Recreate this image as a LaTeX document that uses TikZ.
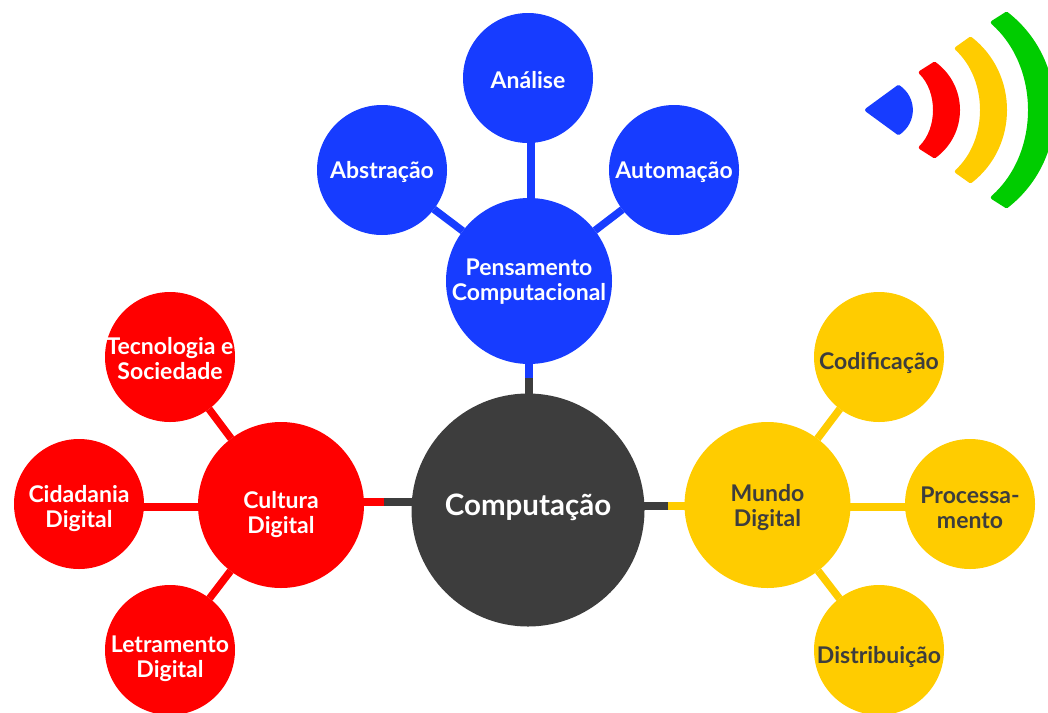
\documentclass[tikz,border=0pt]{standalone}
\usepackage{fontspec}
\setmainfont{Lato}[BoldFont={Lato Bold}]
\usetikzlibrary{backgrounds}
\definecolor{cblue}{HTML}{173CFF}
\definecolor{cred}{HTML}{FF0000}
\definecolor{cyellow}{HTML}{FFCC00}
\definecolor{cgreen}{HTML}{00CC00}
\definecolor{cgrey}{HTML}{3D3D3D}
\tikzset{
  bub/.style={circle,inner sep=0pt,outer sep=0pt,minimum size=#1},
  big/.style={bub=233pt,fill=cgrey},
  mid/.style={bub=166pt},
  small/.style={bub=130pt},
  txt/.style={font=\bfseries\fontsize{23}{25}\selectfont,align=center,inner sep=0pt,text=white},
  txtd/.style={txt,text=cgrey},
  con/.style={line width=7.5pt},
  wave/.style={line width=4pt,line join=round}
}
\begin{document}
\begin{tikzpicture}[x=1pt,y=-1pt]
\useasboundingbox (0,0) rectangle (1048,712);
\clip (0,0) rectangle (1048,712);
\node[big,label={[txt,font=\bfseries\fontsize{29.5}{32}\selectfont,yshift=3pt]center:Computação}] (comp) at (528,510) {};
\node[mid,fill=cblue,label={[txt,yshift=-1pt]center:{Pensamento\\Computacional}}] (pens) at (529,281) {};
\node[mid,fill=cred,label={[txt,yshift=-10pt]center:{Cultura\\Digital}}] (cult) at (281,505) {};
\node[mid,fill=cyellow,label={[txtd,yshift=-3pt]center:{Mundo\\Digital}}] (mund) at (767.5,505) {};
\node[small,fill=cblue,label={[txt,yshift=-2pt]center:Análise}] (anal) at (528,78) {};
\node[small,fill=cblue,label={[txt,yshift=-2pt]center:Abstração}] (abst) at (382,170) {};
\node[small,fill=cblue,label={[txt,yshift=-2pt]center:Automação}] (auto) at (674,170) {};
\node[small,fill=cred,label={[txt,yshift=-2pt]center:{Tecnologia e\\Sociedade}}] (tecn) at (170,357) {};
\node[small,fill=cred,label={[txt,yshift=-5pt]center:{Cidadania\\Digital}}] (cida) at (79,504) {};
\node[small,fill=cred,label={[txt,yshift=-9pt]center:{Letramento\\Digital}}] (letr) at (170,650) {};
\node[small,fill=cyellow,label={[txtd,yshift=-6pt]center:Codificação}] (codi) at (879,357) {};
\node[small,fill=cyellow,label={[txtd,yshift=-4pt]center:{Processa-\\mento}}] (proc) at (970,504) {};
\node[small,fill=cyellow,label={[txtd,yshift=-7pt]center:Distribuição}] (dist) at (879,650) {};
\coordinate (mt) at (529,378);
\coordinate (ml) at (384,502);
\coordinate (mr) at (668,506);
\coordinate (rl) at (0,507);
\begin{scope}[on background layer]
  \draw[con,cblue] ([xshift=3pt]anal.center) -- ([xshift=3pt]anal.center |- pens.center);
  \draw[con,cblue] (abst) -- (pens);
  \draw[con,cblue] (auto) -- (pens);
  \draw[con,cblue] (pens.center) -- (mt);
  \draw[con,cgrey] (mt) -- (mt |- comp.center);
  \draw[con,cred] (tecn) -- (cult);
  \draw[con,cred] (letr) -- (cult);
  \draw[con,cred] (cida.center |- rl) -- (cult.center |- rl);
  \draw[con,cred] (cult.center |- ml) -- (ml);
  \draw[con,cgrey] (ml) -- (comp.center |- ml);
  \draw[con,cyellow] (codi) -- (mund);
  \draw[con,cyellow] (dist) -- (mund);
  \draw[con,cyellow] (proc.center |- rl) -- (mund.center |- rl);
  \draw[con,cyellow] (mund.center |- mr) -- (mr);
  \draw[con,cgrey] (mr) -- (comp.center |- mr);
\end{scope}
% signal icon: #1 colour; outer end dx, half height, mid dx; inner end dx, half height, mid dx
\coordinate (sig) at (865,110);
\newcommand{\wavearc}[7]{%
  \pgfmathsetmacro{\cxo}{#2+4/3*(#4-#2)}\pgfmathsetmacro{\cyo}{#3/2}%
  \pgfmathsetmacro{\cxi}{#5+4/3*(#7-#5)}\pgfmathsetmacro{\cyi}{#6/2}%
  \filldraw[wave,draw=#1,fill=#1,shift={(sig)}] (#2,-#3)
    .. controls (\cxo,-\cyo) and (\cxo,\cyo) .. (#2,#3)
    -- (#5,#6)
    .. controls (\cxi,\cyi) and (\cxi,-\cyi) .. (#5,-#6)
    -- cycle;}
\filldraw[wave,draw=cblue,fill=cblue,shift={(sig)}] (2,0) -- (33.5,-23)
  .. controls (50,-11.5) and (50,11.5) .. (33.5,23) -- cycle;
\wavearc{cred}{69.5}{46.2}{93}{55.8}{37.5}{70}
\wavearc{cyellow}{105.5}{71.2}{140}{91.8}{61.5}{117}
\wavearc{cgreen}{141.5}{96.2}{188}{127.8}{87.5}{165}
\end{tikzpicture}
\end{document}
